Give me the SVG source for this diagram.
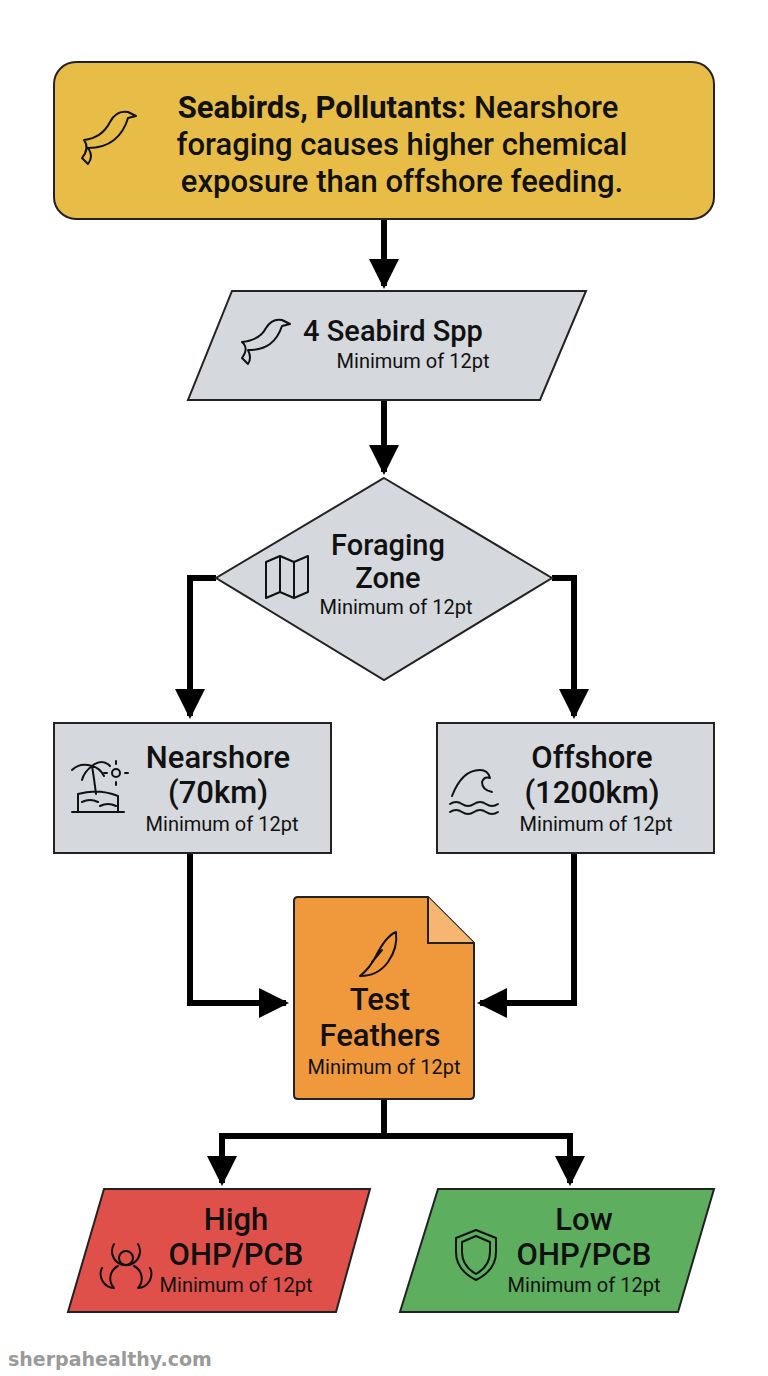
<svg xmlns="http://www.w3.org/2000/svg" width="768" height="1376" viewBox="0 0 768 1376">
<defs>
<marker id="ah" viewBox="0 0 10 10" refX="9" refY="5" markerWidth="5" markerHeight="5" markerUnits="strokeWidth" orient="auto"><path d="M0,0 L10,5 L0,10 Z" fill="#000"/></marker>
<style>
.n{stroke:#222;stroke-width:2}
.c{fill:none;stroke:#000;stroke-width:6;marker-end:url(#ah)}
.t{font-family:Roboto,"Liberation Sans",sans-serif;fill:#111;text-anchor:middle}
.b{font-weight:500;font-size:31px}
.s{font-size:20px}
.i{fill:none;stroke:#111;stroke-width:2;stroke-linejoin:round;stroke-linecap:round}
</style>
</defs>
<rect width="768" height="1376" fill="#fff"/>
<g id="connectors">
<path class="c" d="M384,219 V286"/>
<path class="c" d="M384,400 V472"/>
<path class="c" d="M216,578 H190 V716"/>
<path class="c" d="M552,578 H574 V716"/>
<path class="c" d="M190,853 V1003 H286"/>
<path class="c" d="M574,853 V1003 H480"/>
<path class="c" d="M384,1099 V1136 H222 V1183"/>
<path class="c" d="M384,1136 H570 V1183"/>
</g>
<g id="top">
<rect class="n" x="54" y="62" width="660" height="157" rx="22" fill="#E8BD47"/>
<path class="i" d="M84,140 q18,-2 26,-18 q6,-12 18,-10 l8,4 l-8,2 q-4,14 -14,22 q-10,8 -26,8 q6,8 0,16 l-6,-6 q8,-10 2,-18 z"/>
<text class="t" x="398" y="118" style="font-size:31px;font-weight:500"><tspan font-weight="bold">Seabirds, Pollutants:</tspan> Nearshore</text>
<text class="t" x="402" y="155" style="font-size:31px;font-weight:500">foraging causes higher chemical</text>
<text class="t" x="402" y="192" style="font-size:31px;font-weight:500">exposure than offshore feeding.</text>
</g>
<g id="species">
<polygon class="n" points="232,291 586,291 540,400 188,400" fill="#D5D8DC"/>
<path class="i" d="M242,342 q18,-2 24,-14 q6,-10 16,-8 l8,4 l-8,2 q-4,12 -12,18 q-8,6 -22,6 q4,8 0,14 l-6,-6 q6,-8 2,-14 z"/>
<text class="t b" x="393" y="341" style="font-size:29px">4 Seabird Spp</text>
<text class="t s" x="413" y="368">Minimum of 12pt</text>
</g>
<g id="zone">
<polygon class="n" points="384,478 552,578 384,680 216,578" fill="#D5D8DC"/>
<path class="i" d="M266,562 l14,-6 l14,6 l14,-6 v36 l-14,6 l-14,-6 l-14,6 z M280,556 v36 M294,562 v36"/>
<text class="t b" x="388" y="555" style="font-size:29px">Foraging</text>
<text class="t b" x="388" y="588" style="font-size:29px">Zone</text>
<text class="t s" x="396" y="614">Minimum of 12pt</text>
</g>
<g id="nearshore">
<rect class="n" x="54" y="723" width="277" height="130" fill="#D5D8DC"/>
<path class="i" d="M72,812 h52 M78,812 v-18 q20,-6 40,2 v16 M96,794 q-2,-16 -4,-28 M92,766 q-12,-4 -20,4 M92,766 q10,-8 18,0 M92,766 q-8,6 -10,14 M92,766 q8,2 12,10 M82,802 q8,-4 16,0 M100,806 q8,-4 16,0"/>
<circle class="i" cx="116" cy="773" r="4"/>
<path class="i" d="M116,764 v-3 M116,782 v3 M107,773 h-3 M125,773 h3"/>
<text class="t b" x="218" y="768">Nearshore</text>
<text class="t b" x="218" y="803">(70km)</text>
<text class="t s" x="222" y="831">Minimum of 12pt</text>
</g>
<g id="offshore">
<rect class="n" x="437" y="723" width="277" height="130" fill="#D5D8DC"/>
<path class="i" d="M452,796 q10,-26 28,-26 q8,0 10,8 q-6,-2 -8,4 q0,8 10,10 M450,804 q6,-4 12,0 q6,4 12,0 q6,-4 12,0 q6,4 12,0 M450,812 q6,-4 12,0 q6,4 12,0 q6,-4 12,0 q6,4 12,0"/>
<text class="t b" x="592" y="768">Offshore</text>
<text class="t b" x="592" y="803">(1200km)</text>
<text class="t s" x="596" y="831">Minimum of 12pt</text>
</g>
<g id="feathers">
<path class="n" d="M298,897 H428 L474,943 V1095 q0,4 -4,4 H298 q-4,0 -4,-4 V901 q0,-4 4,-4 z" fill="#F0993C"/>
<path class="n" d="M428,897 V943 H474" fill="#F6B570"/>
<path class="i" d="M360,976 q10,-8 16,-20 q10,-20 20,-24 q2,16 -8,30 q-10,14 -28,14 M372,962 l10,-12"/>
<text class="t b" x="380" y="1010">Test</text>
<text class="t b" x="380" y="1046">Feathers</text>
<text class="t s" x="384" y="1074">Minimum of 12pt</text>
</g>
<g id="high">
<polygon class="n" points="104,1189 370,1189 336,1312 68,1312" fill="#E0504A"/>
<g class="i" stroke-width="2.5">
<circle cx="126" cy="1258" r="7"/>
<path d="M114,1244 a14,14 0 1 0 24,0 M102,1268 a14,14 0 0 0 12,20 a14,14 0 0 1 4,-22 M150,1268 a14,14 0 0 1 -12,20 a14,14 0 0 0 -4,-22"/>
</g>
<text class="t b" x="236" y="1230">High</text>
<text class="t b" x="236" y="1265">OHP/PCB</text>
<text class="t s" x="236" y="1292">Minimum of 12pt</text>
</g>
<g id="low">
<polygon class="n" points="438,1189 714,1189 678,1312 400,1312" fill="#5DAE5E"/>
<path class="i" stroke-width="2.5" d="M476,1230 l20,8 v14 q0,18 -20,28 q-20,-10 -20,-28 v-14 z M476,1236 l14,6 v10 q0,14 -14,22 q-14,-8 -14,-22 v-10 z"/>
<text class="t b" x="584" y="1230">Low</text>
<text class="t b" x="584" y="1265">OHP/PCB</text>
<text class="t s" x="584" y="1292">Minimum of 12pt</text>
</g>
<text x="8" y="1366" style="font-family:'DejaVu Sans',sans-serif;font-weight:bold;font-size:19px;fill:#9a9a9a">sherpahealthy.com</text>
</svg>
